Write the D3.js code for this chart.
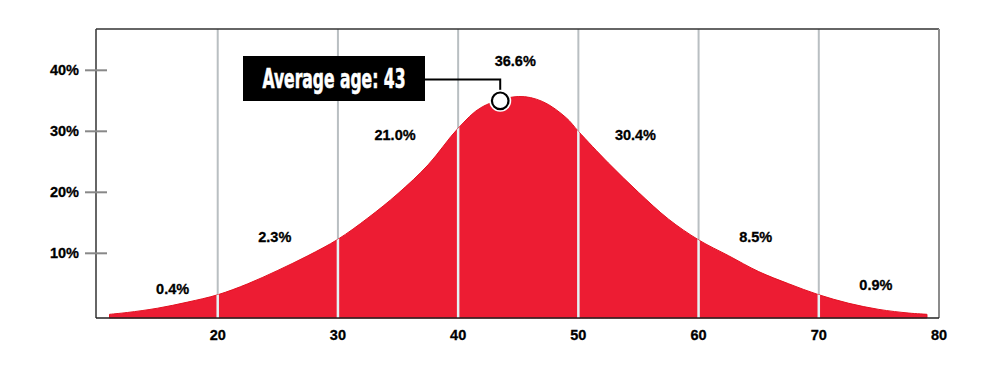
<!DOCTYPE html>
<html lang="en">
    <head>
        <meta charset="utf-8">
        <title>Age distribution</title>
        <script src="https://d3js.org/d3.v7.min.js"></script>
        <style type="text/css">
            body { margin: 0; background: #fff; }
            text.lbl {
                font-family: "Liberation Sans", Arial, sans-serif;
                font-weight: 700;
                font-size: 14.5px;
                fill: #000;
                stroke: #000;
                stroke-width: 0.3px;
            }
            text.callout {
                font-family: "Liberation Sans Narrow", "DejaVu Sans Condensed", sans-serif;
                font-weight: 700;
                font-size: 27px;
                fill: #fff;
                stroke: #fff;
                stroke-width: 0.6px;
            }
        </style>
    </head>
    <body>
        <svg width="1000" height="377"></svg>
        <script type="text/javascript">

            // curve: age -> share of people (%)
            const ages  = [11, 12.5, 15, 17.5, 20, 22.5, 25, 27.5, 30, 32.5, 35, 37.5, 40, 42, 45, 47, 49, 50, 52.5, 55, 57.5, 60, 62.5, 65, 67.5, 70, 72.5, 75, 77.5, 79];
            const share = [0, 0.3, 1.0, 2.0, 3.2, 5.0, 7.2, 9.6, 12.3, 15.8, 19.8, 24.5, 30.5, 34.0, 35.7, 34.9, 32.2, 30.0, 24.8, 20.0, 15.6, 12.2, 9.6, 7.0, 5.0, 3.2, 1.8, 0.8, 0.2, 0];

            // ten-year bins and their shares
            const binStart  = [10, 20, 30, 40, 50, 60, 70];
            const binShare  = [0.4, 2.3, 21.0, 36.6, 30.4, 8.5, 0.9];
            const binLabelY = [4.1, 12.6, 29.4, 41.6, 29.4, 12.6, 4.8];   // label height, in % units

            const xTicks = [20, 30, 40, 50, 60, 70, 80];
            const yTicks = [10, 20, 30, 40];

            const avgAge = 43;
            const markerAge = 43.5;
            const markerShare = 35.0;

            const svg = d3.select("svg");
            const pLeft = 96, pRight = 939, pTop = 29, pBottom = 318;

            const x = d3.scaleLinear().domain([10, 80]).range([97.5, 939]);
            const y = d3.scaleLinear().domain([0, 40]).range([314.3, 70.3]);

            const pts = ages.map((a, i) => ({age: a, v: share[i]}));

            // gray grid lines
            svg.selectAll("line.grid")
               .data(xTicks.filter(d => d < 80))
               .enter()
               .append("line")
               .attr("class", "grid")
               .attr("x1", d => x(d)).attr("x2", d => x(d))
               .attr("y1", pTop).attr("y2", pBottom)
               .style("stroke", "#b9bfc2")
               .style("stroke-width", 2);

            const area = d3.area()
                           .x(d => x(d.age))
                           .y0(pBottom)
                           .y1(d => y(d.v))
                           .curve(d3.curveCatmullRom.alpha(0.5));

            svg.append("clipPath").attr("id", "under")
               .append("path").attr("d", area(pts));

            svg.append("path")
               .attr("d", area(pts))
               .style("fill", "#ed1c33")
               .style("stroke", "#e3101f")
               .style("stroke-width", 1);

            // light grid lines inside the red area
            svg.append("g")
               .attr("clip-path", "url(#under)")
               .selectAll("line")
               .data(xTicks.filter(d => d < 80))
               .enter()
               .append("line")
               .attr("x1", d => x(d)).attr("x2", d => x(d))
               .attr("y1", pTop).attr("y2", pBottom)
               .style("stroke", "#e4f3f5")
               .style("stroke-width", 2.5);

            // frame
            svg.append("line").attr("x1", pLeft).attr("x2", pRight).attr("y1", pTop).attr("y2", pTop)
               .style("stroke", "#333").style("stroke-width", 1.5);
            svg.append("line").attr("x1", pRight).attr("x2", pRight).attr("y1", pTop).attr("y2", pBottom)
               .style("stroke", "#8c8c8c").style("stroke-width", 2);
            svg.append("line").attr("x1", pLeft).attr("x2", pLeft).attr("y1", pTop).attr("y2", pBottom)
               .style("stroke", "#333").style("stroke-width", 1.5);
            svg.append("line").attr("x1", pLeft).attr("x2", pRight).attr("y1", pBottom).attr("y2", pBottom)
               .style("stroke", "#222").style("stroke-width", 1.5);

            // y ticks
            svg.selectAll("line.ytick")
               .data(yTicks)
               .enter()
               .append("line")
               .attr("class", "ytick")
               .attr("x1", 85).attr("x2", 107)
               .attr("y1", d => y(d)).attr("y2", d => y(d))
               .style("stroke", "#888").style("stroke-width", 2);

            svg.selectAll("text.ylab")
               .data(yTicks)
               .enter()
               .append("text")
               .attr("class", "lbl")
               .attr("x", 79)
               .attr("y", d => y(d) + 5)
               .attr("text-anchor", "end")
               .text(d => d + "%");

            // x tick labels
            svg.selectAll("text.xlab")
               .data(xTicks)
               .enter()
               .append("text")
               .attr("class", "lbl")
               .attr("x", d => x(d))
               .attr("y", 340)
               .attr("text-anchor", "middle")
               .text(d => d);

            // bin share labels
            svg.selectAll("text.bin")
               .data(binStart)
               .enter()
               .append("text")
               .attr("class", "lbl")
               .attr("x", (d, i) => x((Math.max(d, 13) + d + 10) / 2) - 3)
               .attr("y", (d, i) => y(binLabelY[i]) + 5)
               .attr("text-anchor", "middle")
               .text((d, i) => binShare[i].toFixed(1) + "%");

            // average age callout
            const mx = x(markerAge), my = y(markerShare);
            svg.append("path")
               .attr("d", `M${mx},${my - 9}V79.5H420`)
               .style("fill", "none").style("stroke", "#000").style("stroke-width", 2);

            svg.append("rect")
               .attr("x", 243).attr("y", 56)
               .attr("width", 182).attr("height", 45)
               .style("fill", "#000");

            svg.append("text")
               .attr("class", "callout")
               .attr("x", 334).attr("y", 88)
               .attr("text-anchor", "middle")
               .attr("textLength", 143)
               .attr("lengthAdjust", "spacingAndGlyphs")
               .text("Average age: " + avgAge);

            svg.append("circle")
               .attr("cx", mx).attr("cy", my).attr("r", 11)
               .style("fill", "#fff");
            svg.append("circle")
               .attr("cx", mx).attr("cy", my).attr("r", 8.3)
               .style("fill", "#fff")
               .style("stroke", "#000").style("stroke-width", 2.2);

        </script>
    </body>
</html>
